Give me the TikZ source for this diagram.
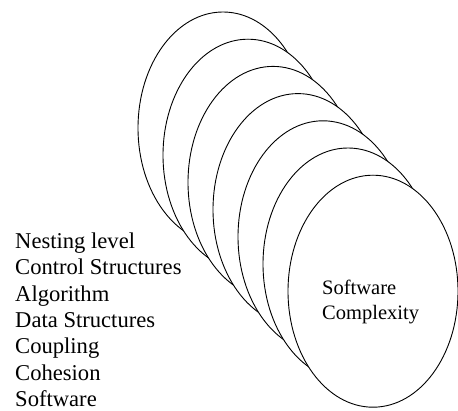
\documentclass[tikz,border=0pt]{standalone}
\usepackage{fontspec}
\setmainfont{Liberation Serif}
\usetikzlibrary{shapes.geometric}
\begin{document}
\begin{tikzpicture}[x=1pt,y=1pt,
  disc/.style={ellipse, draw=black, line width=0.9pt, fill=white, minimum width=170pt, minimum height=232pt, inner sep=0pt},
  lefttext/.style={anchor=base west, inner sep=0pt, font=\fontsize{22.6}{26}\selectfont},
  innertext/.style={anchor=base west, inner sep=0pt, font=\fontsize{20.5}{25}\selectfont}]
\useasboundingbox (0,0) rectangle (458,410);
% ellipses, back to front (image y flipped: y = 410 - y_img)
\foreach \i in {0,...,6} {
  \node[disc] (e\i) at ({223+25*\i},{410-(128+27.2*\i)}) {};
}
% left list
\node[lefttext] (t1) at (15,{410-248.5}) {Nesting level};
\node[lefttext] (t2) at (15,{410-274.8}) {Control Structures};
\node[lefttext] (t3) at (15,{410-301.1}) {Algorithm};
\node[lefttext] (t4) at (15,{410-327.4}) {Data Structures};
\node[lefttext] (t5) at (15,{410-353.7}) {Coupling};
\node[lefttext] (t6) at (15,{410-380}) {Cohesion};
\node[lefttext] (t7) at (15,{410-406.3}) {Software};
% inner label
\node[innertext] (s1) at (322,{410-295}) {Software};
\node[innertext] (s2) at (322,{410-320}) {Complexity};
\end{tikzpicture}
\end{document}
